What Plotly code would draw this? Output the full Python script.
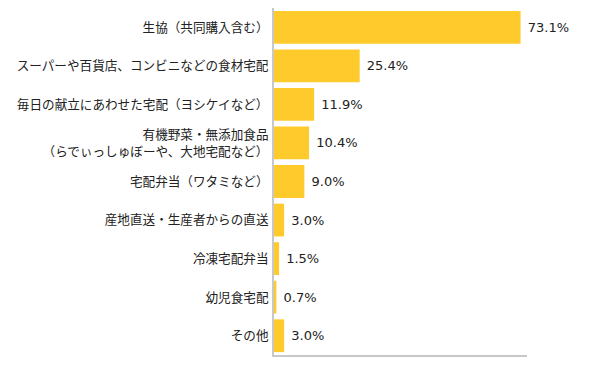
import plotly.graph_objects as go

categories = [
    "生協（共同購入含む）",
    "スーパーや百貨店、コンビニなどの食材宅配",
    "毎日の献立にあわせた宅配（ヨシケイなど）",
    "有機野菜・無添加食品<br>（らでぃっしゅぼーや、大地宅配など）",
    "宅配弁当（ワタミなど）",
    "産地直送・生産者からの直送",
    "冷凍宅配弁当",
    "幼児食宅配",
    "その他",
]
values = [73.1, 25.4, 11.9, 10.4, 9.0, 3.0, 1.5, 0.7, 3.0]

fig = go.Figure(go.Bar(
    x=values,
    y=categories,
    orientation="h",
    marker=dict(color="#FFCA2C", line=dict(width=0)),
    text=[f"{v:.1f}%" for v in values],
    texttemplate=" %{text}",
    textposition="outside",
    textfont=dict(family="DejaVu Sans", size=13, color="#222222"),
    cliponaxis=False,
))

fig.update_layout(
    width=592, height=358,
    margin=dict(l=266, r=73, t=0, b=11),
    paper_bgcolor="white", plot_bgcolor="white",
    bargap=0.15,
    showlegend=False,
    font=dict(family="Noto Sans CJK JP", size=12.6, color="#222222"),
    xaxis=dict(range=[0, 75], showgrid=False, zeroline=False, showticklabels=False,
               ticks="", showline=True, linecolor="#C8C8C8", linewidth=2,
               automargin=False),
    yaxis=dict(autorange="reversed", showgrid=False, zeroline=False, ticks="",
               showline=True, linecolor="#C8C8C8", linewidth=2,
               automargin=False, ticklabelstandoff=1,
               tickfont=dict(size=12.6, color="#222222")),
)

fig.write_html("out.html")
